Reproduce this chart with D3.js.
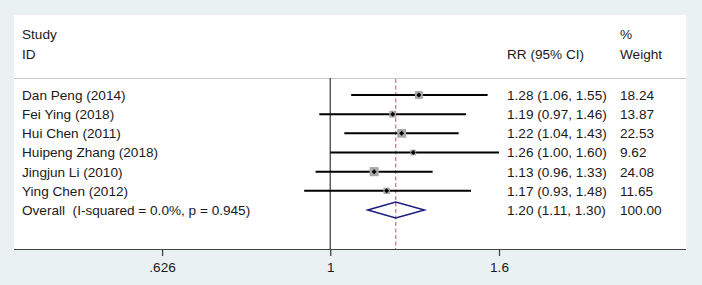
<!DOCTYPE html>
<html>
<head>
<meta charset="utf-8">
<script src="https://cdn.jsdelivr.net/npm/d3@7"></script>
<style>
  html, body { margin: 0; padding: 0; background: #eaf1f3; }
  svg { display: block; font-family: "Liberation Sans", Arial, sans-serif; }
</style>
</head>
<body>
<svg id="chart" width="702" height="285"></svg>
<script>
'use strict';
// study data
var studies = ["Dan Peng (2014)", "Fei Ying (2018)", "Hui Chen (2011)", "Huipeng Zhang (2018)", "Jingjun Li (2010)", "Ying Chen (2012)"];
var rr = [1.28, 1.19, 1.22, 1.26, 1.13, 1.17];
var lower = [1.06, 0.97, 1.04, 1.00, 0.96, 0.93];
var upper = [1.55, 1.46, 1.43, 1.60, 1.33, 1.48];
var weights = [18.24, 13.87, 22.53, 9.62, 24.08, 11.65];
var overallLabel = "Overall  (I-squared = 0.0%, p = 0.945)";
var overall = [1.20, 1.11, 1.30];
var overallWeight = 100.00;
var tickValues = [0.626, 1, 1.6];
var tickLabels = [".626", "1", "1.6"];

function fmt(v) { return v.toFixed(2); }

var svg = d3.select("#chart");
var panel = {left: 14, top: 15, right: 686, bottom: 249};
var fs = 13.6;

svg.append("rect")
	.attr("x", panel.left).attr("y", panel.top)
	.attr("width", panel.right - panel.left).attr("height", panel.bottom - panel.top)
	.attr("fill", "#fff");

let x = d3.scaleLog().domain([1 / 1.6, 1.6]).range([161.5, 499]);
let rows = studies.concat([overallLabel]);
let y = d3.scalePoint().domain(rows).range([95, 210]);

// header
let hdr = svg.append("g").attr("font-size", fs).attr("fill", "#1a1a1a");
hdr.append("text").attr("x", 22).attr("y", 39).text("Study");
hdr.append("text").attr("x", 22).attr("y", 59).text("ID");
hdr.append("text").attr("x", 507).attr("y", 59).text("RR (95% CI)");
hdr.append("text").attr("x", 620).attr("y", 39).text("%");
hdr.append("text").attr("x", 620).attr("y", 59).text("Weight");

svg.append("line")
	.attr("x1", panel.left).attr("x2", panel.right)
	.attr("y1", 78.5).attr("y2", 78.5)
	.attr("stroke", "#c8c8c8").attr("stroke-width", 1);

// null line and overall line
svg.append("line")
	.attr("x1", x(1)).attr("x2", x(1))
	.attr("y1", 78).attr("y2", panel.bottom)
	.attr("stroke", "#444").attr("stroke-width", 1.3);
svg.append("line")
	.attr("x1", x(overall[0])).attr("x2", x(overall[0]))
	.attr("y1", 79).attr("y2", panel.bottom)
	.attr("stroke", "#c47f86").attr("stroke-width", 1.3)
	.attr("stroke-dasharray", "4,2.5");

// CI lines
let g = svg.append("g");
studies.forEach(function (s, i) {
	g.append("line")
		.attr("x1", x(lower[i])).attr("x2", x(upper[i]))
		.attr("y1", y(s)).attr("y2", y(s))
		.attr("stroke", "#000").attr("stroke-width", 2);
	let side = 1.85 * Math.sqrt(weights[i]);
	g.append("rect")
		.attr("x", x(rr[i]) - side / 2).attr("y", y(s) - side / 2)
		.attr("width", side).attr("height", side)
		.attr("fill", "#a9a9a9");
	g.append("path")
		.attr("d", d3.symbol(d3.symbolDiamond2, 16)())
		.attr("transform", "translate(" + x(rr[i]) + "," + y(s) + ")")
		.attr("fill", "#000");
});

// overall diamond
let oy = y(overallLabel);
g.append("path")
	.attr("d", "M" + x(overall[1]) + "," + oy + "L" + x(overall[0]) + "," + (oy - 8) +
		"L" + x(overall[2]) + "," + oy + "L" + x(overall[0]) + "," + (oy + 8) + "Z")
	.attr("fill", "none").attr("stroke", "#1c1c80").attr("stroke-width", 1.5);

// row labels
let lbl = svg.append("g").attr("font-size", fs).attr("fill", "#1a1a1a");
rows.forEach(function (s, i) {
	let est = i < studies.length ? [rr[i], lower[i], upper[i]] : overall;
	let w = i < studies.length ? weights[i] : overallWeight;
	lbl.append("text").attr("x", 22).attr("y", y(s)).attr("dy", "0.36em")
		.attr("xml:space", "preserve").text(s);
	lbl.append("text").attr("x", 507).attr("y", y(s)).attr("dy", "0.36em")
		.text(fmt(est[0]) + " (" + fmt(est[1]) + ", " + fmt(est[2]) + ")");
	lbl.append("text").attr("x", 620).attr("y", y(s)).attr("dy", "0.36em")
		.text(fmt(w));
});

// x axis
let axis = svg.append("g")
	.attr("transform", "translate(0," + panel.bottom + ")")
	.call(d3.axisBottom(x).tickValues(tickValues)
		.tickFormat(function (d, i) { return tickLabels[i]; })
		.tickSize(7).tickPadding(6));
axis.select(".domain").attr("d", "M" + panel.left + ",0.5H" + panel.right).attr("stroke", "#444");
axis.selectAll(".tick line").attr("stroke", "#444").attr("stroke-width", 1.3);
axis.selectAll(".tick text").attr("font-size", fs).attr("fill", "#1a1a1a")
	.attr("font-family", "Liberation Sans, Arial, sans-serif");
</script>
</body>
</html>
